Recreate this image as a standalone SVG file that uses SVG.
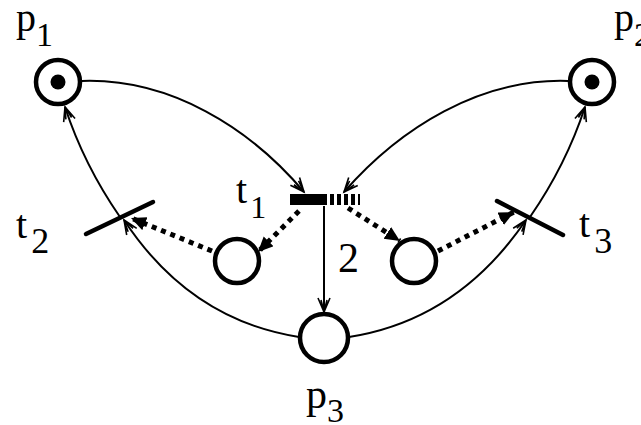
<svg xmlns="http://www.w3.org/2000/svg" width="641" height="425" viewBox="0 0 641 425">
<defs>
<style>
.arc{fill:none;stroke:#000;stroke-width:2}
.dot{fill:none;stroke:#000;stroke-width:5;stroke-dasharray:5 5}
.place{fill:#fff;stroke:#000;stroke-width:4.5}
.lbl{fill:#000}
.bar{stroke:#000;stroke-width:4.5;stroke-linecap:round}
</style>
<marker id="open" markerUnits="userSpaceOnUse" markerWidth="20" markerHeight="16" refX="15" refY="7" orient="auto">
<path d="M1,1 L15,7 L1,13 M3,4 L15,7 L3,10" fill="none" stroke="#000" stroke-width="1.6"/>
</marker>
<marker id="fill" markerUnits="userSpaceOnUse" markerWidth="20" markerHeight="16" refX="15" refY="7" orient="auto">
<path d="M0,0 L15,7 L0,14 Z" fill="#000"/>
</marker>
</defs>
<rect width="641" height="425" fill="#fff"/>
<g id="connectors">
<path class="arc" d="M82,81 C170,78 250,128 304,192" marker-end="url(#open)"/>
<path class="arc" d="M568,81 C480,78 400,128 344,192" marker-end="url(#open)"/>
<path class="arc" d="M324,206 L324,312" marker-end="url(#open)"/>
<path class="arc" d="M299,337 Q190,320 124,220" marker-end="url(#open)"/>
<path class="arc" d="M120,217 Q84,165 65,107" marker-end="url(#open)"/>
<path class="arc" d="M349,337 Q458,320 526,220" marker-end="url(#open)"/>
<path class="arc" d="M530,217 Q566,165 585,107" marker-end="url(#open)"/>
<path class="dot" d="M299,211 L258,252" marker-end="url(#fill)"/>
<path class="dot" d="M348,208 L400,241" marker-end="url(#fill)"/>
<path class="dot" d="M212,251 L131,218" marker-end="url(#fill)"/>
<path class="dot" d="M438,251 L514,212" marker-end="url(#fill)"/>
</g>
<g font-family="'Liberation Serif', 'Times New Roman', serif">
<g id="p1">
<circle class="place" cx="58" cy="82" r="22"/>
<circle cx="58" cy="82" r="7.5" fill="#000"/>
<text class="lbl" x="16" y="31" font-size="40">p<tspan font-size="34" dy="15">1</tspan></text>
</g>
<g id="p2">
<circle class="place" cx="592" cy="82" r="22"/>
<circle cx="592" cy="82" r="7.5" fill="#000"/>
<text class="lbl" x="614" y="31" font-size="40">p<tspan font-size="34" dy="15">2</tspan></text>
</g>
<g id="p3">
<circle class="place" cx="324" cy="338" r="24"/>
<text class="lbl" x="306" y="408" font-size="42">p<tspan font-size="34" dy="14">3</tspan></text>
</g>
<g id="q1">
<circle class="place" cx="237" cy="261" r="22"/>
</g>
<g id="q2">
<circle class="place" cx="414" cy="261" r="22"/>
</g>
<g id="t1">
<rect x="290" y="194" width="33" height="11" fill="#000"/>
<line x1="323" y1="199.5" x2="360" y2="199.5" stroke="#000" stroke-width="11" stroke-dasharray="4 3"/>
<text class="lbl" x="236" y="203" font-size="40">t<tspan font-size="32" dy="15" dx="3">1</tspan></text>
</g>
<g id="t2">
<line class="bar" x1="86" y1="234" x2="153" y2="202"/>
<text class="lbl" x="16" y="238" font-size="40">t<tspan font-size="36" dy="15" dx="4">2</tspan></text>
</g>
<g id="t3">
<line class="bar" x1="497" y1="201" x2="563" y2="235"/>
<text class="lbl" x="579" y="237" font-size="40">t<tspan font-size="36" dy="16" dx="4">3</tspan></text>
</g>
<g id="weight">
<text class="lbl" x="338" y="272" font-size="42">2</text>
</g>
</g>
</svg>
